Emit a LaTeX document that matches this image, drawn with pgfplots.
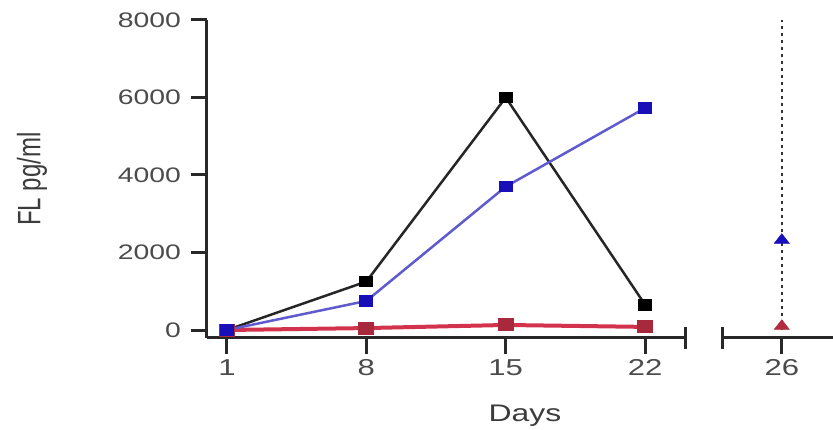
\documentclass[border=0pt]{standalone}
\usepackage{pgfplots}
\pgfplotsset{compat=1.18}
\usepackage{fontspec}
\setmainfont{Liberation Sans}
\definecolor{myblue}{RGB}{25,15,185}
\definecolor{mybluel}{RGB}{95,90,205}
\definecolor{myred}{RGB}{210,50,75}
\definecolor{axgray}{RGB}{40,40,40}
\definecolor{txtgray}{RGB}{75,75,75}
\begin{document}
\begin{tikzpicture}
\useasboundingbox (0pt,0pt) rectangle (833pt,430pt);
\pgfplotsset{
 common/.style={scale only axis, anchor=south west, height=318pt, ymin=-206, ymax=8000, clip=false,
  tick label style={text=txtgray, xscale=1.35},
  xticklabel style={font=\fontsize{23}{23}\selectfont, yshift=-2pt},
  yticklabel style={font=\fontsize{21}{21}\selectfont, xshift=-4pt},
  /pgf/number format/assume math mode=true,
  /pgf/number format/1000 sep={},
 },
 lines/.style={axis line style={-, line width=3pt, color=axgray},
  tick style={line width=3pt, color=axgray},
  major tick length=16pt,
  xtick align=outside, ytick align=outside},
}
\begin{axis}[common, at={(207pt,92pt)}, width=478pt, xmin=0, xmax=24,
  axis x line=bottom, axis y line=left, lines,
  xtick={1,8,15,22}, ytick={0,2000,4000,6000,8000},
  extra x ticks={24}, extra x tick labels={},
  extra x tick style={xtick align=center, major tick length=22pt},
  xlabel={Days}, ylabel={FL pg/ml},
  xlabel style={at={(axis description cs:0.665,0)}, anchor=north, yshift=-63pt, xscale=1.33, font=\fontsize{24}{24}\selectfont, text=txtgray!80!black},
  ylabel style={at={(axis description cs:-0.366,0.5)}, anchor=center, yscale=1.35, font=\fontsize{24}{24}\selectfont, text=txtgray!80!black},
 ]
\addplot[myred, line width=4pt, mark=square*, mark size=4.5pt, mark options={xscale=1.3, fill=myred!80!black, draw=myred!80!black}] coordinates {(1,0)(8,50)(15,130)(22,80)};
\addplot[black!85, line width=2.5pt, mark=square*, mark size=4.5pt, mark options={xscale=1.3, black}] coordinates {(1,0)(8,1250)(15,6000)(22,650)};
\addplot[mybluel, line width=2.5pt, mark=square*, mark size=4.5pt, mark options={xscale=1.3, draw=myblue, fill=myblue}] coordinates {(1,0)(8,750)(15,3700)(22,5730)};
\end{axis}
\begin{axis}[common, at={(722pt,92pt)}, width=111pt, xmin=23, xmax=28.57,
  axis x line=bottom, axis y line=none, lines,
  xtick={26},
  extra x ticks={23}, extra x tick labels={},
  extra x tick style={xtick align=center, major tick length=22pt},
 ]
\addplot[black!80, line width=2.5pt, dash pattern=on 3pt off 4pt] coordinates {(26,0)(26,8000)};
\addplot[only marks, mark=triangle*, mark size=6.5pt, mark options={xscale=1.35}, myblue] coordinates {(26,2320)};
\addplot[only marks, mark=triangle*, mark size=6.5pt, mark options={xscale=1.35}, myred!85!black] coordinates {(26,100)};
\end{axis}
\end{tikzpicture}
\end{document}
